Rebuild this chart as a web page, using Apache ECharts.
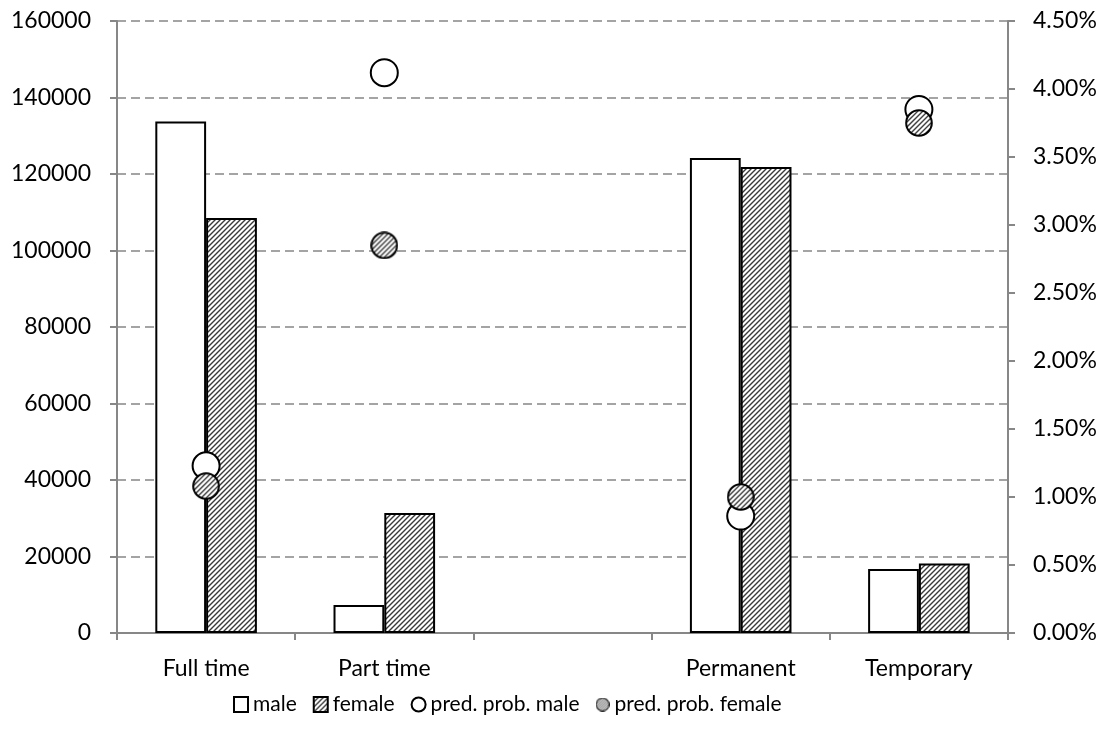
<!DOCTYPE html>
<html><head><meta charset="utf-8">
<script src="https://cdn.jsdelivr.net/npm/echarts@6/dist/echarts.min.js"></script>
<style>html,body{margin:0;padding:0;background:#fff}#c{width:1115px;height:740px}</style>
</head><body><div id="c"></div>
<script>
const categories = ['Full time', 'Part time', '', 'Permanent', 'Temporary'];
const maleCounts = [133700, 7300, null, 124200, 16700];
const femaleCounts = [108500, 31400, null, 121800, 18200];
const predProbMale = [0.0123, 0.0412, null, 0.0086, 0.0385];
const predProbFemale = [0.0108, 0.0285, null, 0.0100, 0.0375];
const leftTicks = { min: 0, max: 160000, interval: 20000 };
const rightTicks = { min: 0, max: 0.045, interval: 0.005 };

const hatchColor = '#3a3a3a';
function hatch() {
  const s = 5, c = document.createElement('canvas');
  c.width = s; c.height = s;
  const g = c.getContext('2d');
  g.fillStyle = '#ffffff'; g.fillRect(0, 0, s, s);
  g.strokeStyle = hatchColor; g.lineWidth = 1.4;
  g.beginPath();
  g.moveTo(0, s); g.lineTo(s, 0);
  g.moveTo(-1, 1); g.lineTo(1, -1);
  g.moveTo(s - 1, s + 1); g.lineTo(s + 1, s - 1);
  g.stroke();
  return { image: c, repeat: 'repeat' };
}
function hatchedCircle(S) {
  const c = document.createElement('canvas');
  c.width = S; c.height = S;
  const g = c.getContext('2d');
  const r = S / 2 - 1.2;
  g.beginPath(); g.arc(S / 2, S / 2, r, 0, Math.PI * 2);
  g.fillStyle = '#fff'; g.fill();
  g.save(); g.clip();
  g.strokeStyle = hatchColor; g.lineWidth = 1.4;
  g.beginPath();
  for (let k = -S; k < 2 * S; k += 5) { g.moveTo(k, S); g.lineTo(k + S, 0); }
  g.stroke();
  g.restore();
  g.beginPath(); g.arc(S / 2, S / 2, r, 0, Math.PI * 2);
  g.strokeStyle = '#000'; g.lineWidth = 2; g.stroke();
  return 'image://' + c.toDataURL();
}
const pat = hatch();
const femaleSym = hatchedCircle(28);
const gray = '#878787';
const font = 'Lato';
const fs = 23;

const chart = echarts.init(document.getElementById('c'));
chart.setOption({
  animation: false,
  textStyle: { fontFamily: font },
  grid: { left: 117, right: 107, top: 21, bottom: 107 },
  legend: {
    bottom: 20, left: 228, itemGap: 16, itemWidth: 14, itemHeight: 15,
    textStyle: { fontFamily: font, fontSize: 21, color: '#000' },
    data: [
      { name: 'male', icon: 'rect' },
      { name: 'female', icon: 'rect' },
      { name: 'pred. prob. male', icon: 'circle' },
      { name: 'pred. prob. female', icon: femaleSym }
    ]
  },
  xAxis: {
    type: 'category', data: categories,
    axisLine: { lineStyle: { color: gray, width: 2 } },
    axisTick: { show: true, length: 7, lineStyle: { color: gray, width: 2 } },
    axisLabel: { color: '#000', fontSize: fs, fontFamily: font, margin: 24 }
  },
  yAxis: [
    {
      type: 'value', min: leftTicks.min, max: leftTicks.max, interval: leftTicks.interval,
      axisLine: { show: true, lineStyle: { color: gray, width: 2 } },
      axisTick: { show: true, length: 7, lineStyle: { color: gray, width: 2 } },
      axisLabel: { color: '#000', fontSize: fs, fontFamily: font, margin: 26,
        formatter: v => String(v) },
      splitLine: { show: true, lineStyle: { color: gray, width: 1.5, type: [9, 5] } }
    },
    {
      type: 'value', min: rightTicks.min, max: rightTicks.max, interval: rightTicks.interval,
      axisLine: { show: true, lineStyle: { color: gray, width: 2 } },
      axisTick: { show: true, length: 7, lineStyle: { color: gray, width: 2 } },
      axisLabel: { color: '#000', fontSize: fs, fontFamily: font, margin: 25,
        formatter: v => (v * 100).toFixed(2) + '%' },
      splitLine: { show: false }
    }
  ],
  series: [
    { name: 'male', type: 'bar', data: maleCounts, barGap: '0%', barCategoryGap: '43%',
      itemStyle: { color: '#fff', borderColor: '#000', borderWidth: 2 } },
    { name: 'female', type: 'bar', data: femaleCounts,
      itemStyle: { color: pat, borderColor: '#000', borderWidth: 2 } },
    { name: 'pred. prob. male', type: 'scatter', yAxisIndex: 1, data: predProbMale, symbolSize: 27, z: 5,
      itemStyle: { color: '#fff', borderColor: '#000', borderWidth: 2, opacity: 1 } },
    { name: 'pred. prob. female', type: 'scatter', yAxisIndex: 1, data: predProbFemale,
      symbol: femaleSym, symbolSize: 28, z: 6, itemStyle: { opacity: 1 } }
  ]
});
</script></body></html>
